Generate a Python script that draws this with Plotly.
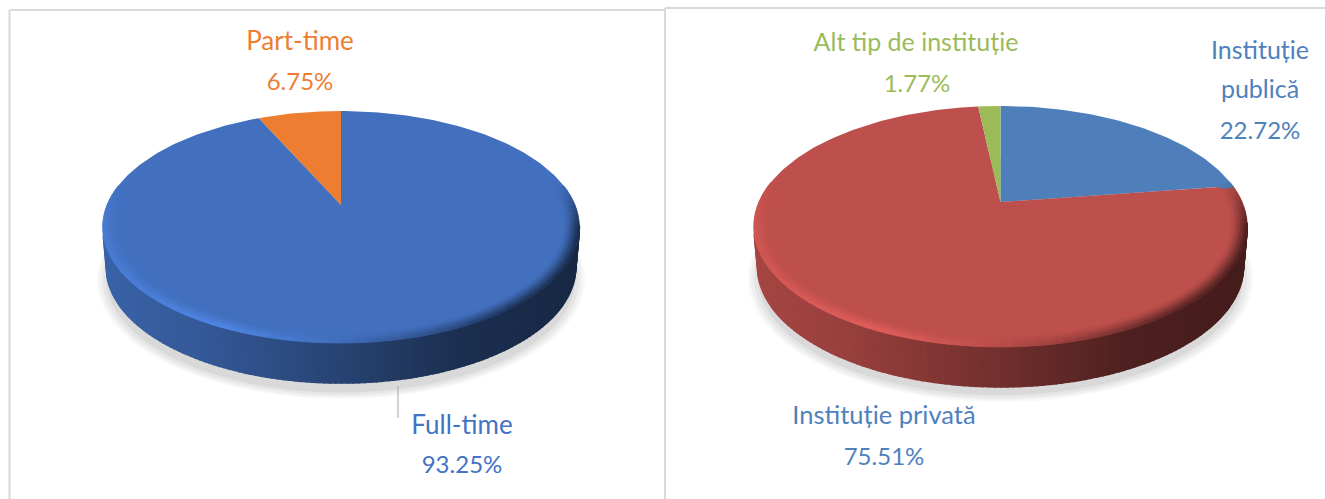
import math
import plotly.graph_objects as go

# ---- data ----
left_categories = ["Full-time", "Part-time"]
left_values = [93.25, 6.75]
left_colors = ["#4270BF", "#ED7D31"]
right_categories = ["Instituție publică", "Instituție privată", "Alt tip de instituție"]
right_values = [22.72, 75.51, 1.77]
right_colors = ["#4F7FBB", "#BD4F4C", "#9BBB59"]

# ---- label lines (text, x, y, colour, size) ----
labels = [
    ("Part-time", 300, 43, "#ED7D31", 26),
    ("6.75%", 300, 84, "#ED7D31", 24),
    ("Full-time", 462, 427, "#4472C4", 26),
    ("93.25%", 462, 467, "#4472C4", 24),
    ("Alt tip de instituție", 916, 45, "#9BBB59", 25),
    ("1.77%", 917, 86, "#9BBB59", 24),
    ("Instituție", 1260, 53, "#4F81BD", 25),
    ("publică", 1260, 92, "#4F81BD", 25),
    ("22.72%", 1260, 133, "#4F81BD", 24),
    ("Instituție privată", 884, 418, "#4F81BD", 25.5),
    ("75.51%", 884, 459, "#4F81BD", 24),
]

# ---- projection of each pie (perspective disc) ----
LEFT = dict(cx=341, ay=205, rx=234, a=111.8, p=0.19, h=40, shadow=52)
RIGHT = dict(cx=1000.5, ay=202, rx=241.6, a=115.5, p=0.203, h=40, shadow=51)


def rim(g, th, s=1.0):
    u, v = s * math.sin(th), s * math.cos(th)
    w = 1 + g["p"] * v
    return g["cx"] + g["rx"] * u / w, g["ay"] - g["a"] * v / w


def hex2rgb(c):
    return tuple(int(c[i:i + 2], 16) for i in (1, 3, 5))


def mix(c1, c2, t):
    return tuple(a + (b - a) * t for a, b in zip(c1, c2))


def scale(c, f):
    return tuple(min(255, x * f) for x in c)


def css(c):
    return "rgb(%d,%d,%d)" % tuple(round(x) for x in c)


def slice_at(values, th):
    frac = (th % (2 * math.pi)) / (2 * math.pi) * sum(values)
    run = 0
    for i, v in enumerate(values):
        run += v
        if frac <= run:
            return i
    return len(values) - 1


def path(points):
    return "M " + " L ".join("%.2f %.2f" % p for p in points) + " Z"


def poly(points, color, layer, width=1.0):
    return dict(type="path", xref="x", yref="y", path=path(points), layer=layer,
                fillcolor=color, line=dict(color=color, width=width))


def lerp_table(table, t):
    for (t0, f0), (t1, f1) in zip(table, table[1:]):
        if t <= t1:
            return f0 + (f1 - f0) * max(0.0, t - t0) / (t1 - t0)
    return table[-1][1]


SIDE = [(0, 0.88), (0.2, 0.8), (0.5, 0.6), (0.75, 0.42), (1, 0.36)]
EDGE = [(0, 1.10), (0.25, 1.2), (0.45, 1.03), (0.6, 0.85), (0.85, 0.5), (1, 0.42)]


def draw_pie(fig, shapes, g, values, colors, names):
    # soft shadow
    for s, o in [(1.022, 0.10), (1.012, 0.14), (1.0, 0.2), (0.985, 0.3)]:
        pts = []
        for k in range(120):
            x, y = rim(g, 2 * math.pi * k / 120, s)
            pts.append((x, y + g["shadow"]))
        shapes.append(dict(type="path", xref="x", yref="y", path=path(pts), layer="below",
                           fillcolor="rgba(190,190,190,%.2f)" % o, line=dict(width=0)))

    # outer wall, shaded from left to right
    n = 130
    lo, hi = math.radians(255), math.radians(100)
    ths = [lo + (hi - lo) * i / n for i in range(n + 1)]
    x0, x1 = g["cx"] - g["rx"] * 1.02, g["cx"] + g["rx"] * 1.02
    for i in range(n):
        a, b = ths[i], ths[i + 1]
        pa, pb = rim(g, a), rim(g, b)
        qa = (g["cx"] + (pa[0] - g["cx"]) * 0.985, pa[1] + g["h"])
        qb = (g["cx"] + (pb[0] - g["cx"]) * 0.985, pb[1] + g["h"])
        t = ((pa[0] + pb[0]) / 2 - x0) / (x1 - x0)
        base = hex2rgb(colors[slice_at(values, (a + b) / 2)])
        shapes.append(poly([pa, pb, qb, qa], css(scale(base, lerp_table(SIDE, t))), "below", 1.6))

    # top faces
    start = 0.0
    total = sum(values)
    for name, v, c in zip(names, values, colors):
        end = start + v / total * 2 * math.pi
        m = max(3, int(v * 3))
        arc = [rim(g, start + (end - start) * i / m) for i in range(m + 1)]
        xs = [g["cx"]] + [p[0] for p in arc] + [g["cx"]]
        ys = [g["ay"]] + [p[1] for p in arc] + [g["ay"]]
        fig.add_trace(go.Scatter(x=xs, y=ys, mode="lines", fill="toself", fillcolor=c,
                                 line=dict(width=0, color=c), name=name, showlegend=False,
                                 hovertemplate=name + ": %.2f%%<extra></extra>" % v))
        start = end

    # soft bevel on the near rim
    radii = [0.94, 0.952, 0.963, 0.974, 0.985, 0.993, 1.0]
    weights = [0.08, 0.25, 0.45, 0.68, 0.88, 1.0]
    n = 80
    lo, hi = math.radians(280), math.radians(80)
    ths = [lo + (hi - lo) * i / n for i in range(n + 1)]
    for i in range(n):
        a, b = ths[i], ths[i + 1]
        mid = (a + b) / 2
        base = hex2rgb(colors[slice_at(values, mid)])
        xm = rim(g, mid)[0]
        t = (xm - x0) / (x1 - x0)
        fade = min(1.0, max(0.0, (0.2 - math.cos(mid)) / 0.4))
        edge = scale(base, lerp_table(EDGE, t))
        for j in range(len(weights)):
            col = mix(base, edge, weights[j] * fade)
            s0, s1 = radii[j], radii[j + 1]
            shapes.append(poly([rim(g, a, s0), rim(g, b, s0), rim(g, b, s1), rim(g, a, s1)],
                               css(col), "above", 0.8))


fig = go.Figure()
shapes = []
draw_pie(fig, shapes, LEFT, left_values, left_colors, left_categories)
draw_pie(fig, shapes, RIGHT, right_values, right_colors, right_categories)

# panel frames and the leader line
BORDER = "#D9D9D9"
for x0, y0, x1, y1 in [(9.5, 10, 665, 10), (9.5, 10, 9.5, 499), (665, 8, 665, 499), (665, 8, 1325, 8)]:
    shapes.append(dict(type="line", xref="x", yref="y", x0=x0, y0=y0, x1=x1, y1=y1, layer="below",
                       line=dict(color=BORDER, width=2)))
shapes.append(dict(type="line", xref="x", yref="y", x0=398, y0=386, x1=398, y1=418, layer="above",
                   line=dict(color="#A6A6A6", width=1)))

fig.add_trace(go.Scatter(
    x=[l[1] for l in labels], y=[l[2] for l in labels], text=[l[0] for l in labels],
    mode="text", textposition="middle center", showlegend=False, hoverinfo="skip",
    textfont=dict(family="Lato", size=[l[4] for l in labels], color=[l[3] for l in labels]),
))

fig.update_layout(
    width=1325, height=499, margin=dict(l=0, r=0, t=0, b=0),
    paper_bgcolor="white", plot_bgcolor="white", showlegend=False, shapes=shapes,
    xaxis=dict(range=[0, 1325], visible=False, fixedrange=True),
    yaxis=dict(range=[499, 0], visible=False, fixedrange=True),
)
fig.write_html("out.html", config={"displayModeBar": False},
               post_script="document.body.style.margin='0';document.body.style.overflow='hidden';")
